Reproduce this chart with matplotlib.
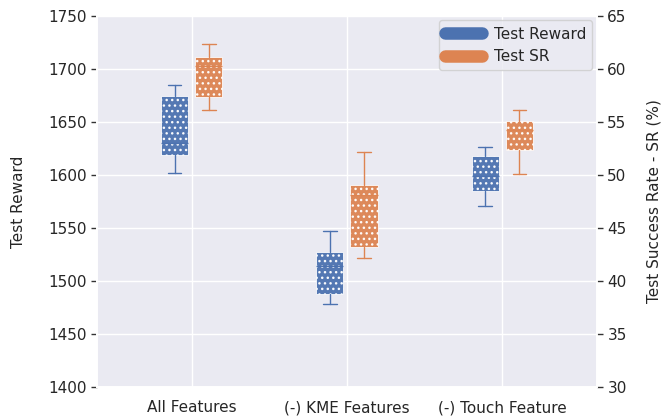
import matplotlib
matplotlib.use("Agg")
import matplotlib.pyplot as plt
import seaborn as sns
from matplotlib.lines import Line2D

sns.set_theme(style="darkgrid")
plt.rcParams['font.family'] = ['DejaVu Sans']

categories = ["All Features", "(-) KME Features", "(-) Touch Feature"]
# Test Reward box stats
rew_whislo = [1602, 1478, 1571]
rew_q1 = [1619, 1488, 1585]
rew_med = [1630, 1514, 1599]
rew_q3 = [1674, 1527, 1618]
rew_whishi = [1685, 1547, 1626]
# Test SR box stats (%)
sr_whislo = [56.1, 42.2, 50.1]
sr_q1 = [57.3, 43.2, 52.3]
sr_med = [60.3, 48.1, 54.2]
sr_q3 = [61.1, 49.0, 55.1]
sr_whishi = [62.3, 52.2, 56.1]

blue = "#4C72B0"
orange = "#DD8452"

fig, ax = plt.subplots(figsize=(6.64, 4.16), dpi=100)
fig.subplots_adjust(left=0.146, right=0.899, top=0.962, bottom=0.07)
ax2 = ax.twinx()

def stats(lo, q1, med, q3, hi):
    return [dict(whislo=a, q1=b, med=c, q3=d, whishi=e, fliers=[])
            for a, b, c, d, e in zip(lo, q1, med, q3, hi)]

pos = list(range(len(categories)))
off = 0.11
w = 0.175

def draw(axis, st, positions, color):
    bp = axis.bxp(st, positions=positions, widths=w, patch_artist=True,
                  showfliers=False,
                  boxprops=dict(facecolor=color, edgecolor="white", linewidth=0.6, alpha=0.95),
                  whiskerprops=dict(color=color, linewidth=1.0),
                  capprops=dict(color=color, linewidth=1.0),
                  medianprops=dict(color=color, linewidth=1.0))
    for b in bp['boxes']:
        b.set_hatch("...")
    return bp

draw(ax, stats(rew_whislo, rew_q1, rew_med, rew_q3, rew_whishi), [p - off for p in pos], blue)
draw(ax2, stats(sr_whislo, sr_q1, sr_med, sr_q3, sr_whishi), [p + off for p in pos], orange)

ax.set_xlim(-0.61, 2.61)
ax.set_ylim(1400, 1750)
ax2.set_ylim(30, 65)
ax.set_xticks(pos)
ax.set_xticklabels(categories, fontsize=11)
ax.set_yticks(range(1400, 1751, 50))
ax.tick_params(axis='y', labelsize=11, left=True, length=4, width=1, color="#333333")
ax.tick_params(axis='x', labelsize=11)
ax2.set_yticks(range(30, 66, 5))
ax2.tick_params(axis='y', labelsize=11, right=True, length=4, width=1, color="#333333")
ax2.grid(False)
ax.set_ylabel("Test Reward", fontsize=11, labelpad=16)
ax2.set_ylabel("Test Success Rate - SR (%)", fontsize=11, labelpad=14)

handles = [Line2D([0], [0], color=blue, lw=9, solid_capstyle="round"),
           Line2D([0], [0], color=orange, lw=9, solid_capstyle="round")]
ax2.legend(handles, ["Test Reward", "Test SR"], loc="upper right", fontsize=11,
           handlelength=2.4, borderaxespad=0.3)

fig.savefig("out.png", dpi=100)
